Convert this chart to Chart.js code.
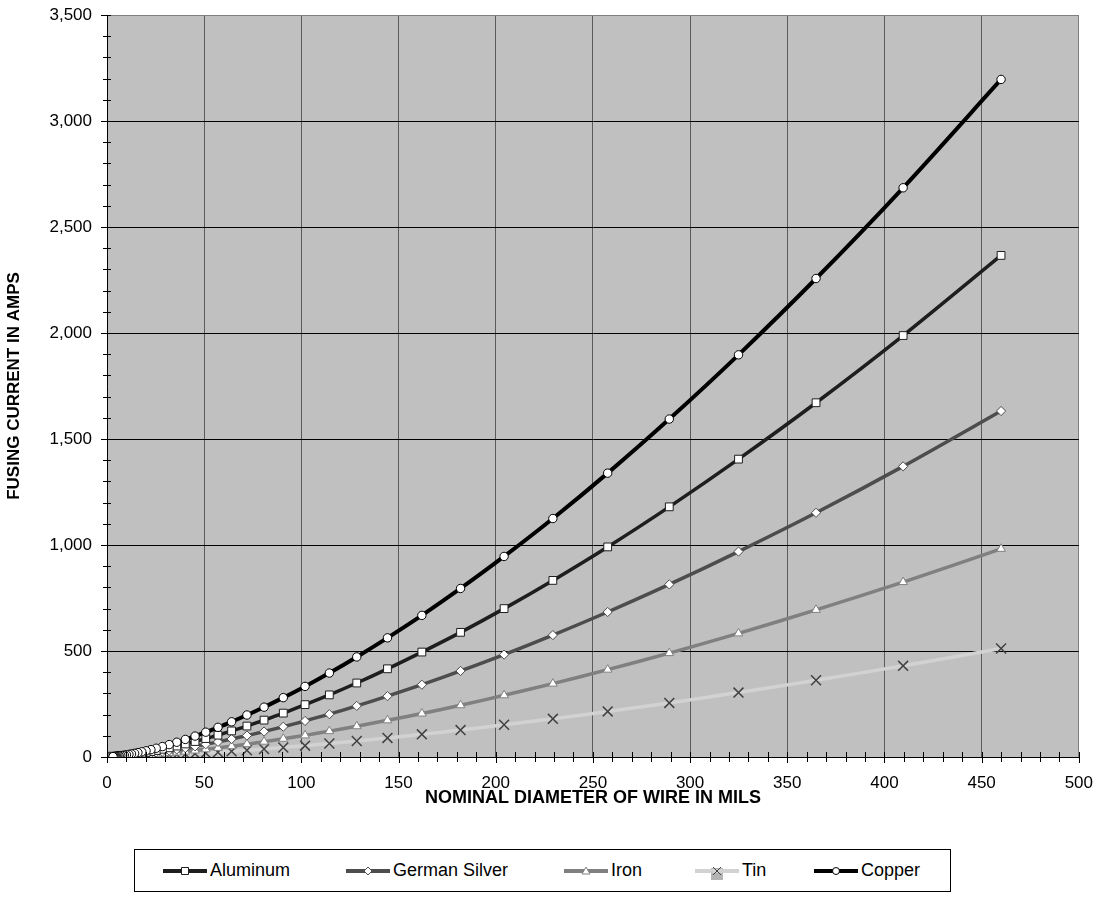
<!DOCTYPE html>
<html lang="en">
<head>
<meta charset="UTF-8">
<title>Fusing Current of Wire</title>
<style>
body { margin: 0; background: #fff; font-family: "Liberation Sans", Arial, sans-serif; }
.wrap { position: relative; width: 1109px; height: 897px; }
#fuseChart { position: absolute; left: 0; top: 0; }
.legend-box {
  position: absolute; left: 134px; top: 849px; width: 817px; height: 43px;
  border: 1px solid #000; box-sizing: border-box; background: #fff;
}
.legend-item { position: absolute; top: 0; height: 41px; display: flex; align-items: center; font-size: 18px; color: #000; }
.legend-item canvas { margin-right: 3px; }
</style>
</head>
<body>

<div class="wrap">
    <canvas id="fuseChart" width="1109" height="897"></canvas>
    <div class="legend-box" id="legendBox"></div>
</div>

<script src="https://cdn.jsdelivr.net/npm/chart.js"></script>
<script>
// wire diameter in mils, gauge 0000 down to 40
const diameterMils = [460, 409.6, 364.8, 324.9, 289.3, 257.6, 229.4, 204.3, 181.9, 162,
    144.3, 128.5, 114.4, 101.9, 90.7, 80.8, 72, 64.1, 57.1, 50.8,
    45.3, 40.3, 35.9, 32, 28.5, 25.3, 22.6, 20.1, 17.9, 15.9,
    14.2, 12.6, 11.3, 10, 8.9, 8, 7.1, 6.3, 5.6, 5,
    4.5, 4, 3.5, 3.1];

// fusing current in amps
const aluminumAmps = [2366, 1988, 1671, 1405, 1180, 991, 833, 700, 588, 495,
    416, 349, 293, 247, 207, 174, 146, 123, 103, 86.9,
    73.0, 61.4, 51.6, 43.3, 36.4, 30.6, 25.7, 21.6, 18.2, 15.3,
    12.8, 10.8, 9.1, 7.6, 6.4, 5.4, 4.5, 3.8, 3.2, 2.7,
    2.3, 1.9, 1.6, 1.3];
const germanSilverAmps = [1632, 1371, 1152, 969, 814, 684, 575, 483, 406, 341,
    287, 241, 202, 170, 143, 120, 101, 84.8, 71.3, 59.9,
    50.4, 42.3, 35.6, 29.9, 25.1, 21.1, 17.7, 14.9, 12.5, 10.5,
    8.8, 7.4, 6.2, 5.3, 4.4, 3.7, 3.1, 2.6, 2.2, 1.8,
    1.6, 1.3, 1.1, 0.9];
const ironAmps = [982, 825, 694, 583, 490, 412, 346, 291, 244, 205,
    173, 145, 122, 102, 86.0, 72.3, 60.8, 51.1, 42.9, 36.1,
    30.3, 25.5, 21.4, 18.0, 15.1, 12.7, 10.7, 9.0, 7.5, 6.3,
    5.3, 4.5, 3.8, 3.2, 2.7, 2.2, 1.9, 1.6, 1.3, 1.1,
    0.9, 0.8, 0.7, 0.6];
const tinAmps = [512, 430, 362, 304, 255, 215, 180, 152, 127, 107,
    90.0, 75.6, 63.5, 53.4, 44.9, 37.7, 31.7, 26.6, 22.4, 18.8,
    15.8, 13.3, 11.2, 9.4, 7.9, 6.6, 5.6, 4.7, 3.9, 3.3,
    2.8, 2.3, 2.0, 1.7, 1.4, 1.2, 1.0, 0.8, 0.7, 0.6,
    0.5, 0.4, 0.3, 0.3];
const copperAmps = [3196, 2685, 2257, 1897, 1594, 1339, 1125, 946, 795, 668,
    562, 472, 396, 333, 280, 235, 198, 166, 140, 117,
    98.6, 82.9, 69.6, 58.5, 49.2, 41.3, 34.7, 29.2, 24.5, 20.6,
    17.3, 14.6, 12.2, 10.3, 8.6, 7.3, 6.1, 5.1, 4.3, 3.6,
    3.0, 2.6, 2.1, 1.8];

const xTicks = [0, 50, 100, 150, 200, 250, 300, 350, 400, 450, 500];
const yTicks = [0, 500, 1000, 1500, 2000, 2500, 3000, 3500];

const seriesNames = ['Aluminum', 'German Silver', 'Iron', 'Tin', 'Copper'];
const seriesValues = [aluminumAmps, germanSilverAmps, ironAmps, tinAmps, copperAmps];
const lineColors = ['#1e1e1e', '#4d4d4d', '#808080', '#d2d2d2', '#000000'];
const markerStyles = ['rect', 'rectRot', 'triangle', 'crossRot', 'circle'];
const markerSizes = [5.5, 4.6, 5, 7, 4.2];
const drawOrder = [1, 2, 3, 4, 0]; // copper on top

const FONT = "'Liberation Sans', Arial, sans-serif";

const datasets = seriesNames.map((name, i) => ({
    label: name,
    data: diameterMils.map((d, j) => ({ x: d, y: seriesValues[i][j] })),
    showLine: true,
    borderColor: lineColors[i],
    borderWidth: i === 4 ? 4 : 3.5,
    tension: 0.3,
    pointStyle: markerStyles[i],
    pointRadius: markerSizes[i],
    pointBackgroundColor: '#ffffff',
    pointBorderColor: i === 3 ? '#404040' : lineColors[i],
    pointBorderWidth: i === 3 ? 1.5 : 1,
    order: drawOrder[i]
}));

// grey plot area background
const plotBackground = {
    id: 'plotBackground',
    beforeDraw(chart) {
        const { ctx, chartArea: a } = chart;
        ctx.save();
        ctx.fillStyle = '#c0c0c0';
        ctx.fillRect(a.left, a.top, a.right - a.left, a.bottom - a.top);
        ctx.restore();
    }
};

// tick marks crossing the axes, excel style
const axisTicks = {
    id: 'axisTicks',
    afterDraw(chart) {
        const { ctx, chartArea: a, scales } = chart;
        ctx.save();
        ctx.strokeStyle = '#000';
        ctx.lineWidth = 1;
        ctx.beginPath();
        for (let v = 0; v <= 3500; v += 100) {
            const y = Math.round(scales.y.getPixelForValue(v)) + 0.5;
            const major = v % 500 === 0;
            ctx.moveTo(a.left - (major ? 6 : 4), y);
            ctx.lineTo(a.left + 4, y);
        }
        for (let v = 0; v <= 500; v += 10) {
            const x = Math.round(scales.x.getPixelForValue(v)) + 0.5;
            const major = v % 50 === 0;
            ctx.moveTo(x, a.bottom - 5);
            ctx.lineTo(x, a.bottom + (major ? 6 : 5));
        }
        ctx.stroke();
        ctx.restore();
    }
};

new Chart(document.getElementById('fuseChart'), {
    type: 'scatter',
    data: { datasets: datasets },
    options: {
        responsive: false,
        animation: false,
        layout: { padding: { top: 15, right: 29, left: 0, bottom: 0 } },
        plugins: { legend: { display: false }, tooltip: { enabled: false } },
        scales: {
            x: {
                type: 'linear', min: 0, max: 500,
                afterBuildTicks: s => { s.ticks = xTicks.map(v => ({ value: v })); },
                afterFit: s => { s.height = 140; },
                ticks: { padding: 16, color: '#000', font: { family: FONT, size: 17 } },
                grid: { drawTicks: false, color: c => c.tick && c.tick.value === 500 ? '#808080' : '#5a5a5a' },
                border: { color: '#000', width: 1 },
                title: {
                    display: true, text: 'NOMINAL DIAMETER OF WIRE IN MILS', color: '#000',
                    font: { family: FONT, size: 18, weight: 'bold' },
                    padding: { top: 0, bottom: 88 }
                }
            },
            y: {
                type: 'linear', min: 0, max: 3500,
                afterBuildTicks: s => { s.ticks = yTicks.map(v => ({ value: v })); },
                // fixed axis width, and no extra room above the top label
                afterFit: s => { s.width = 107; s.paddingTop = 0; s.paddingBottom = 0; },
                ticks: {
                    padding: 15, color: '#000', font: { family: FONT, size: 17 },
                    callback: v => v.toLocaleString('en-US')
                },
                grid: { drawTicks: false, color: c => c.tick && c.tick.value === 3500 ? '#808080' : '#000' },
                border: { color: '#000', width: 1 },
                title: {
                    display: true, text: 'FUSING CURRENT IN AMPS', color: '#000',
                    font: { family: FONT, size: 17, weight: 'bold' },
                    padding: { top: 4, bottom: 0 }
                }
            }
        }
    },
    plugins: [plotBackground, axisTicks]
});

// legend drawn as html, markers on little canvases
const legendLeft = [163, 346, 564, 695, 814];
const legendBox = document.getElementById('legendBox');
seriesNames.forEach((name, i) => {
    const item = document.createElement('div');
    item.className = 'legend-item';
    item.style.left = (legendLeft[i] - 135) + 'px';
    const c = document.createElement('canvas');
    c.width = 44; c.height = 18;
    const g = c.getContext('2d');
    if (i === 3) {
        g.fillStyle = '#b4b4b4';
        g.fillRect(16, 6, 12, 12);
    }
    g.strokeStyle = lineColors[i];
    g.lineWidth = 4;
    g.beginPath(); g.moveTo(0, 9); g.lineTo(44, 9); g.stroke();
    g.lineWidth = 1;
    g.fillStyle = '#fff';
    g.strokeStyle = i === 3 ? '#404040' : lineColors[i];
    g.beginPath();
    if (i === 0) { g.rect(18.5, 5.5, 7, 7); }
    else if (i === 1) { g.moveTo(22, 5); g.lineTo(26, 9); g.lineTo(22, 13); g.lineTo(18, 9); g.closePath(); }
    else if (i === 2) { g.moveTo(22, 5); g.lineTo(26, 12); g.lineTo(18, 12); g.closePath(); }
    else if (i === 4) { g.arc(22, 9, 3.5, 0, Math.PI * 2); }
    if (i === 3) {
        g.moveTo(18, 5); g.lineTo(26, 13); g.moveTo(26, 5); g.lineTo(18, 13);
        g.stroke();
    } else {
        g.fill(); g.stroke();
    }
    item.appendChild(c);
    item.appendChild(document.createTextNode(name));
    legendBox.appendChild(item);
});
</script>

</body>
</html>
